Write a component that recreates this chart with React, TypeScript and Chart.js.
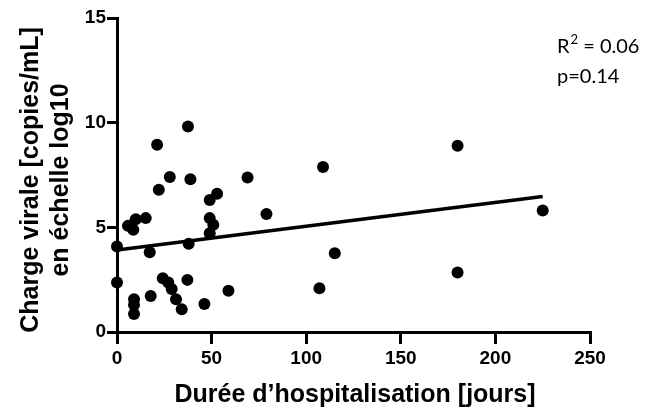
import React, { useEffect, useRef } from "react";
import { Chart, registerables } from "chart.js";

Chart.register(...registerables);

const daysX: number[] = [0, 0, 5.8, 8.6, 9.9, 15.2, 9, 9, 9, 17.3, 17.8, 21.2, 22.1, 24.2, 27.1, 27.9, 28.9, 31.2, 34.2, 37.2, 37.5, 37.9, 38.8, 46.2, 49, 49, 49, 50.9, 52.9, 58.9, 69, 79, 107, 108.9, 115.1, 180, 180, 225];
const loadY: number[] = [4.08, 2.36, 5.07, 4.88, 5.39, 5.44, 1.56, 1.29, 0.86, 3.81, 1.72, 8.94, 6.79, 2.57, 2.37, 7.4, 2.05, 1.57, 1.09, 2.49, 9.82, 4.21, 7.3, 1.34, 6.31, 5.44, 4.72, 5.12, 6.6, 1.97, 7.38, 5.64, 2.09, 7.88, 3.76, 8.9, 2.84, 5.8];

const fitX: number[] = [0, 225];
const fitY: number[] = [3.92, 6.47];

const xTicks: number[] = [0, 50, 100, 150, 200, 250];
const yTicks: number[] = [0, 5, 10, 15];

const statR = { base: "R", sup: "2", rest: " = 0.06" };
const statP = "p=0.14";

const xTitle = "Durée d\u2019hospitalisation [jours]";
const yTitle: string[] = ["Charge virale [copies/mL]", "en échelle log10"];

const FONT = "'Liberation Sans', Arial, Helvetica, sans-serif";
const STAT_FONT = "Lato, 'Open Sans', sans-serif";

export default function App() {
  const ref = useRef<HTMLCanvasElement | null>(null);

  useEffect(() => {
    if (!ref.current) return;
    const textPlugin = {
      id: "texts",
      afterDraw(chart: any) {
        const ctx = chart.ctx;
        ctx.save();
        ctx.fillStyle = "#000";
        // stats
        ctx.textAlign = "left";
        ctx.textBaseline = "alphabetic";
        ctx.font = `20px ${STAT_FONT}`;
        let x = 557;
        ctx.fillText(statR.base, x, 53);
        x += ctx.measureText(statR.base).width + 1;
        ctx.font = `13px ${STAT_FONT}`;
        ctx.fillText(statR.sup, x, 44);
        x += ctx.measureText(statR.sup).width;
        ctx.font = `20px ${STAT_FONT}`;
        ctx.fillText(statR.rest, x, 53);
        ctx.fillText(statP, 557, 83);

        // x title
        ctx.font = `bold 25px ${FONT}`;
        ctx.textAlign = "center";
        ctx.textBaseline = "alphabetic";
        ctx.fillText(xTitle, 355, 402);

        // y title
        ctx.translate(31.5, 180);
        ctx.rotate(-Math.PI / 2);
        ctx.font = `bold 25px ${FONT}`;
        ctx.textAlign = "center";
        ctx.textBaseline = "middle";
        ctx.fillText(yTitle[0], 0, 0);
        ctx.fillText(yTitle[1], 0, 30);
        ctx.restore();
      },
    };

    const chart = new Chart(ref.current, {
      type: "scatter",
      data: {
        datasets: [
          {
            type: "scatter",
            data: daysX.map((x, i) => ({ x, y: loadY[i] })),
            backgroundColor: "#000",
            borderColor: "#000",
            pointRadius: 6,
            pointBorderWidth: 0,
            clip: false,
            order: 0,
          } as any,
          {
            type: "line",
            data: fitX.map((x, i) => ({ x, y: fitY[i] })),
            borderColor: "#000",
            borderWidth: 3.5,
            pointRadius: 0,
            fill: false,
            clip: false,
            order: 1,
          } as any,
        ],
      },
      options: {
        responsive: false,
        animation: false,
        layout: { padding: { left: 0, right: 55, top: 18, bottom: 0 } },
        plugins: { legend: { display: false }, tooltip: { enabled: false } },
        scales: {
          x: {
            type: "linear",
            min: 0,
            max: 250,
            afterFit: (s: any) => {
              s.height = 82;
            },
            afterBuildTicks: (s: any) => {
              s.ticks = xTicks.map((v) => ({ value: v }));
            },
            border: { display: true, color: "#000", width: 3 },
            grid: {
              display: true,
              drawOnChartArea: false,
              drawTicks: true,
              tickLength: 12,
              color: "#000",
              lineWidth: 3,
            },
            ticks: {
              color: "#000",
              padding: 3,
              maxRotation: 0,
              font: { family: FONT, weight: "bold", size: 19 },
            },
            title: { display: false },
          },
          y: {
            type: "linear",
            min: 0,
            max: 15,
            afterFit: (s: any) => {
              s.width = 117;
            },
            afterBuildTicks: (s: any) => {
              s.ticks = yTicks.map((v) => ({ value: v }));
            },
            border: { display: true, color: "#000", width: 3 },
            grid: {
              display: true,
              drawOnChartArea: false,
              drawTicks: true,
              tickLength: 10,
              color: "#000",
              lineWidth: 3,
            },
            ticks: {
              color: "#000",
              padding: 1,
              font: { family: FONT, weight: "bold", size: 19 },
            },
            title: { display: false },
          },
        },
      },
      plugins: [textPlugin],
    } as any);
    return () => chart.destroy();
  }, []);

  return (
    <div style={{ position: "absolute", left: 0, top: 0, width: 645, height: 414, background: "#fff" }}>
      <canvas ref={ref} width={645} height={414} style={{ display: "block" }} />
    </div>
  );
}
